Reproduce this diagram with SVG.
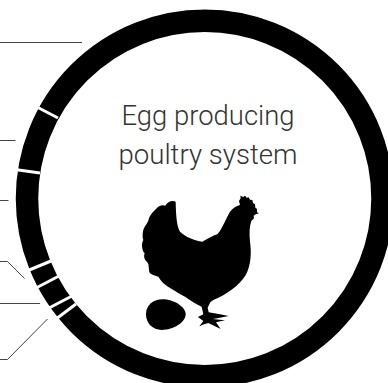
<svg xmlns="http://www.w3.org/2000/svg" width="388" height="383" viewBox="0 0 388 383">
<style>
.lead{fill:none;stroke:#444;stroke-width:1}
.gap{stroke:#fff;stroke-width:3;fill:none}
.t{font-family:Roboto,"Liberation Sans",sans-serif;font-weight:300;font-size:28px;fill:#333;text-anchor:middle}
</style>
<rect width="388" height="383" fill="#fff"/>
<g id="connectors">
<path class="lead" d="M0 42.500H82"/>
<path class="lead" d="M0 140.500H15.500"/>
<path class="lead" d="M0 200.500H8.500"/>
<path class="lead" d="M0 261.500H7.500L24.500 278.500"/>
<path class="lead" d="M0 303.500H40"/>
<path class="lead" d="M0 359.500H7.500L47.500 319"/>
</g>
<g id="ring">
<circle cx="204.750" cy="198.500" r="177.750" fill="none" stroke="#000" stroke-width="22.500"/>
<path class="gap" d="M37 107L58 118"/>
<path class="gap" d="M15 169.500L40 173"/>
<path class="gap" d="M28 270.500L51 261"/>
<path class="gap" d="M36 288L59 276"/>
<path class="gap" d="M49 308L72 296"/>
<path class="gap" d="M56 319L76 304"/>
</g>
<g id="title">
<text class="t" x="208" y="125" textLength="173" lengthAdjust="spacingAndGlyphs">Egg producing</text>
<text class="t" x="208" y="164" textLength="179" lengthAdjust="spacingAndGlyphs">poultry system</text>
</g>
<g id="hen">
<path transform="translate(130 185) scale(.3333)" fill="#000" d="M137 50C138 85 139 120 150 140C165 155 195 168 217 170C232 162 248 152 262 148C278 130 288 100 300 80C310 68 322 62 330 60L327 48L332 40L331 32L340 36L345 32L350 38L356 37L360 44L367 45L369 54L375 58L376 68L381 72L381 82L387 85L377 88L371 92L372 100L364 108C358 125 358 145 360 170C365 205 362 235 352 260C340 290 305 318 265 338C252 343 246 347 241 352L233 368L236 382L270 388L296 393L262 400L248 402L285 406L258 412L272 432L235 414L222 418L208 424L220 408L204 396L220 388L215 365C200 358 180 345 165 335C140 322 112 305 100 295C92 285 88 280 85 275C72 272 62 268 58 262C55 250 58 240 52 232C44 225 40 215 44 205C36 198 33 175 40 165C36 155 38 135 44 125C50 118 52 112 55 108C56 95 65 85 78 72C84 62 98 58 106 62C112 52 125 45 137 50Z"/>
</g>
<g id="egg">
<path transform="translate(130 185) scale(.3333)" fill="#000" d="M48 388C48 360 70 343 98 343C130 343 167 365 167 388C167 412 130 435 95 435C68 435 48 415 48 388Z"/>
</g>
</svg>
